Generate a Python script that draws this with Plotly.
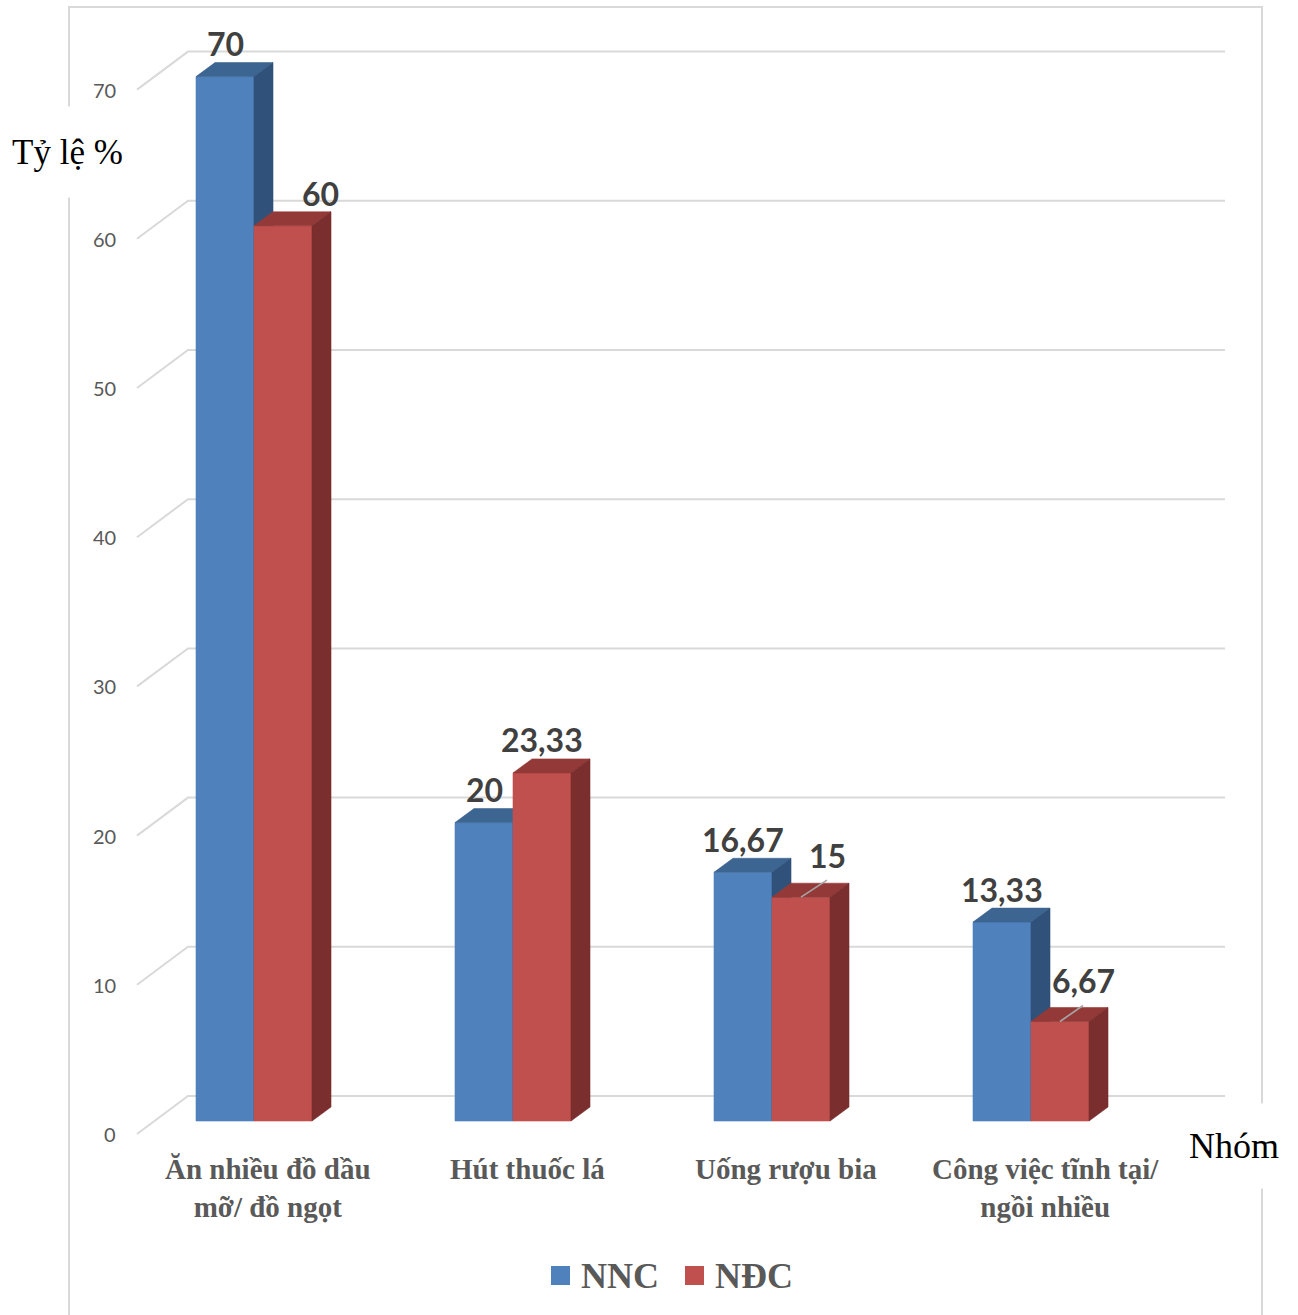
import plotly.graph_objects as go

# ---- data -------------------------------------------------------------
categories = [
    "Ăn nhiều đồ dầu<br>mỡ/ đồ ngọt",
    "Hút thuốc lá",
    "Uống rượu bia",
    "Công việc tĩnh tại/<br>ngồi nhiều",
]
series_names = ["NNC", "NĐC"]
nnc_values = [70, 20, 16.67, 13.33]
ndc_values = [60, 23.33, 15, 6.67]
y_ticks = [0, 10, 20, 30, 40, 50, 60, 70]
y_title = "Tỷ lệ %"
x_title = "Nhóm"

# ---- geometry / style -------------------------------------------------
W, H = 1298, 1315
X0_PX, X_STEP_PX = 254, 259      # pixel of first category, pixels per category
Y0_PX, Y_UNIT_PX = 1121, 14.92   # pixel of value 0 on bar fronts, pixels per unit


def dx(px):
    return px / X_STEP_PX


def dy(px):
    return px / Y_UNIT_PX


def xp(px):
    return (px - X0_PX) / X_STEP_PX


def yp(px):
    return (Y0_PX - px) / Y_UNIT_PX


BAR_W = dx(58)
DEPTH_X, DEPTH_Y = dx(19), dy(14)
WALL_BACK_Y = dy(25)     # back wall baseline above bar base
WALL_FRONT_Y = dy(-13)   # front edge of side wall below bar base

colors = {
    "NNC": {"front": "#4F81BD", "top": "#3D6591", "side": "#30527A"},
    "NĐC": {"front": "#C0504D", "top": "#933A38", "side": "#7A2E2E"},
}
GRID = "#D9D9D9"
LABEL_FONT = dict(family="Lato", size=32, color="#404040")

# label nudges (x px, y px above bar front top) for crowded labels
label_nudge = {
    ("NĐC", 0): (37, 32),
    ("NĐC", 2): (26, 42),
    ("NĐC", 3): (23, 41),
}
leader = {("NĐC", 2): (26, 17), ("NĐC", 3): (23, 16)}

fig = go.Figure()

# ---- back wall & side wall gridlines ---------------------------------
gx, gy = [], []
for v in y_ticks:
    gx += [xp(137), xp(188), xp(1225), None]
    gy += [v + WALL_FRONT_Y, v + WALL_BACK_Y, v + WALL_BACK_Y, None]
fig.add_trace(go.Scatter(x=gx, y=gy, mode="lines",
                         line=dict(color=GRID, width=2),
                         hoverinfo="skip", showlegend=False))


def face(xs, ys, color):
    fig.add_trace(go.Scatter(
        x=xs + [xs[0]], y=ys + [ys[0]], mode="lines", fill="toself",
        fillcolor=color, line=dict(color=color, width=0.6),
        hoverinfo="skip", showlegend=False))


# ---- 3D bars ----------------------------------------------------------
annotations = []
for i in range(len(categories)):
    for name, vals, left in (("NNC", nnc_values, i - BAR_W),
                             ("NĐC", ndc_values, i)):
        v = vals[i]
        c = colors[name]
        x0, x1 = left, left + BAR_W
        face([x0, x1, x1, x0], [0, 0, v, v], c["front"])
        face([x0, x1, x1 + DEPTH_X, x0 + DEPTH_X],
             [v, v, v + DEPTH_Y, v + DEPTH_Y], c["top"])
        face([x1, x1 + DEPTH_X, x1 + DEPTH_X, x1],
             [0, DEPTH_Y, v + DEPTH_Y, v], c["side"])

        nx, ny = label_nudge.get((name, i), (0, 33))
        cx = (x0 + x1) / 2
        annotations.append(dict(
            x=cx + dx(nx), y=v + dy(ny),
            text="<b>" + f"{v:g}".replace(".", ",") + "</b>",
            showarrow=False, font=LABEL_FONT, xanchor="center", yanchor="middle"))
        if (name, i) in leader:
            lx, ly = leader[(name, i)]
            fig.add_trace(go.Scatter(
                x=[cx, cx + dx(lx)], y=[v, v + dy(ly)], mode="lines",
                line=dict(color="#A6A6A6", width=1.6),
                hoverinfo="skip", showlegend=False))

# ---- tick labels ------------------------------------------------------
for v in y_ticks:
    annotations.append(dict(
        x=xp(118), y=v + WALL_FRONT_Y, text=str(v), showarrow=False,
        xanchor="right", yanchor="middle",
        font=dict(family="Lato", size=20, color="#595959")))

# ---- category labels --------------------------------------------------
for i, cat in enumerate(categories):
    annotations.append(dict(
        x=i + dx(14), y=yp(1151), text=f"<b>{cat}</b>", showarrow=False,
        xanchor="center", yanchor="top",
        font=dict(family="Liberation Serif", size=29, color="#595959")))

# ---- axis titles (on white, over the frame) ---------------------------
annotations.append(dict(
    xref="paper", yref="paper", x=67 / W, y=1 - 152 / H, text=y_title,
    showarrow=False, xanchor="center", yanchor="middle",
    width=125, height=88, bgcolor="white",
    font=dict(family="Liberation Serif", size=35, color="black")))
annotations.append(dict(
    xref="paper", yref="paper", x=1234 / W, y=1 - 1146 / H, text=x_title,
    showarrow=False, xanchor="center", yanchor="middle",
    width=100, height=82, bgcolor="white",
    font=dict(family="Liberation Serif", size=36, color="black")))

# ---- frame and legend -------------------------------------------------
shapes = [dict(type="rect", xref="paper", yref="paper",
               x0=69 / W, x1=1262 / W, y0=-0.05, y1=1 - 7 / H,
               line=dict(color=GRID, width=2), layer="below")]
legend_pos = [(551, 579), (685, 713)]
for name, (sq, tx) in zip(series_names, legend_pos):
    shapes.append(dict(type="rect", xref="paper", yref="paper",
                       x0=sq / W, x1=(sq + 19) / W,
                       y0=1 - 1285 / H, y1=1 - 1266 / H,
                       fillcolor=colors[name]["front"], line=dict(width=0)))
    annotations.append(dict(
        xref="paper", yref="paper", x=tx / W, y=1 - 1276 / H,
        text=f"<b>{name}</b>", showarrow=False, xanchor="left", yanchor="middle",
        font=dict(family="Liberation Serif", size=36, color="#595959")))

fig.update_layout(
    width=W, height=H,
    margin=dict(l=0, r=0, t=0, b=0),
    paper_bgcolor="white", plot_bgcolor="white",
    xaxis=dict(range=[xp(0), xp(W)], visible=False, fixedrange=True),
    yaxis=dict(range=[yp(H), yp(0)], visible=False, fixedrange=True),
    annotations=annotations, shapes=shapes, showlegend=False,
)

fig.write_html("out.html")
